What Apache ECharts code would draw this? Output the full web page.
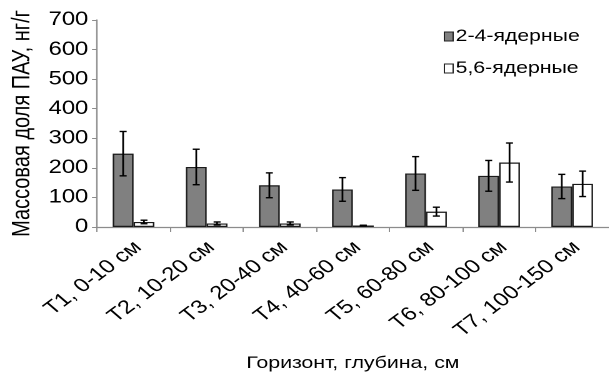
<!DOCTYPE html>
<html>
<head>
<meta charset="utf-8">
<script src="https://cdn.jsdelivr.net/npm/echarts@6/dist/echarts.min.js"></script>
<style>
  html, body { margin: 0; padding: 0; background: #fff; overflow: hidden; }
  /* the original figure is stretched horizontally, so draw narrower and widen */
  #chart { width: 487px; height: 377px; transform: scaleX(1.25); transform-origin: 0 0; }
</style>
</head>
<body>
<div id="chart"></div>
<script>
// горизонты
const categories = ['T1, 0-10 см', 'T2, 10-20 см', 'T3, 20-40 см', 'T4, 40-60 см',
  'T5, 60-80 см', 'T6, 80-100 см', 'T7, 100-150 см'];
const seriesNames = ['2-4-ядерные', '5,6-ядерные'];
const lightPah = [248, 203, 141, 127, 181, 173, 137];
const lightPahErr = [75, 60, 42, 40, 57, 52, 41];
const heavyPah = [17, 12, 12, 5, 52, 218, 146];
const heavyPahErr = [6, 5, 5, 1, 15, 66, 43];

const font = 'Liberation Sans, Arial, sans-serif';
const gapPct = 43;

const chart = echarts.init(document.getElementById('chart'), null, { devicePixelRatio: 2 });

function errorBars(values, errs, side) {
    return {
        type: 'custom',
        silent: true,
        z: 5,
        data: values.map((v, i) => [i, v, errs[i]]),
        renderItem: function (params, api) {
            const band = api.size([1, 0])[0];
            const barW = band * (1 - gapPct / 100) / 2;
            const p = api.coord([api.value(0), api.value(1)]);
            const x = p[0] + side * barW / 2;
            const top = api.coord([api.value(0), api.value(1) + api.value(2)])[1];
            const bot = api.coord([api.value(0), api.value(1) - api.value(2)])[1];
            const cap = 2.8;
            const style = { stroke: '#000', lineWidth: 1.4 };
            return {
                type: 'group',
                children: [
                    { type: 'line', shape: { x1: x, y1: top, x2: x, y2: bot }, style: style },
                    { type: 'line', shape: { x1: x - cap, y1: top, x2: x + cap, y2: top }, style: style },
                    { type: 'line', shape: { x1: x - cap, y1: bot, x2: x + cap, y2: bot }, style: style }
                ]
            };
        }
    };
}

const options = {
    animation: false,
    textStyle: { fontFamily: font },
    grid: {
        left: 68.8,
        top: 20,
        width: 424,
        height: 209
    },
    legend: {
        orient: 'vertical',
        left: 350,
        top: 23,
        itemWidth: 7,
        itemHeight: 9,
        itemGap: 15,
        textStyle: { fontSize: 17, color: '#000', fontFamily: font, padding: [0, 0, 0, -3] },
        data: [
            { name: seriesNames[0], icon: 'rect', itemStyle: { color: '#808080', borderColor: '#222', borderWidth: 1 } },
            { name: seriesNames[1], icon: 'rect', itemStyle: { color: '#fff', borderColor: '#222', borderWidth: 1 } }
        ]
    },
    xAxis: {
        type: 'category',
        data: categories,
        name: 'Горизонт, глубина, см',
        nameLocation: 'middle',
        nameGap: 128,
        nameTextStyle: { fontSize: 17, color: '#000', fontFamily: font },
        axisLine: { lineStyle: { color: '#8c8c8c', width: 1.2 } },
        axisTick: { show: true, length: 5, lineStyle: { color: '#8c8c8c' } },
        axisLabel: { rotate: 43, fontSize: 19, color: '#000', margin: 21, interval: 0, padding: [0, -5, 0, 0] }
    },
    yAxis: {
        type: 'value',
        min: 0,
        max: 700,
        interval: 100,
        name: 'Массовая доля ПАУ, нг/г',
        nameLocation: 'middle',
        nameGap: 46,
        nameTextStyle: { fontSize: 20, color: '#000', fontFamily: font },
        splitLine: { show: false },
        axisLine: { show: true, lineStyle: { color: '#8c8c8c', width: 1.2 } },
        axisTick: { show: true, length: 4, lineStyle: { color: '#8c8c8c' } },
        axisLabel: { fontSize: 19, color: '#000', margin: 7 }
    },
    series: [
        {
            name: seriesNames[0],
            type: 'bar',
            data: lightPah,
            barGap: '0%',
            barCategoryGap: gapPct + '%',
            itemStyle: { color: '#808080', borderColor: '#1a1a1a', borderWidth: 1.2 }
        },
        {
            name: seriesNames[1],
            type: 'bar',
            data: heavyPah,
            barGap: '0%',
            barCategoryGap: gapPct + '%',
            itemStyle: { color: '#ffffff', borderColor: '#1a1a1a', borderWidth: 1.2 }
        },
        errorBars(lightPah, lightPahErr, -1),
        errorBars(heavyPah, heavyPahErr, 1)
    ]
};

chart.setOption(options, true);
</script>
</body>
</html>
